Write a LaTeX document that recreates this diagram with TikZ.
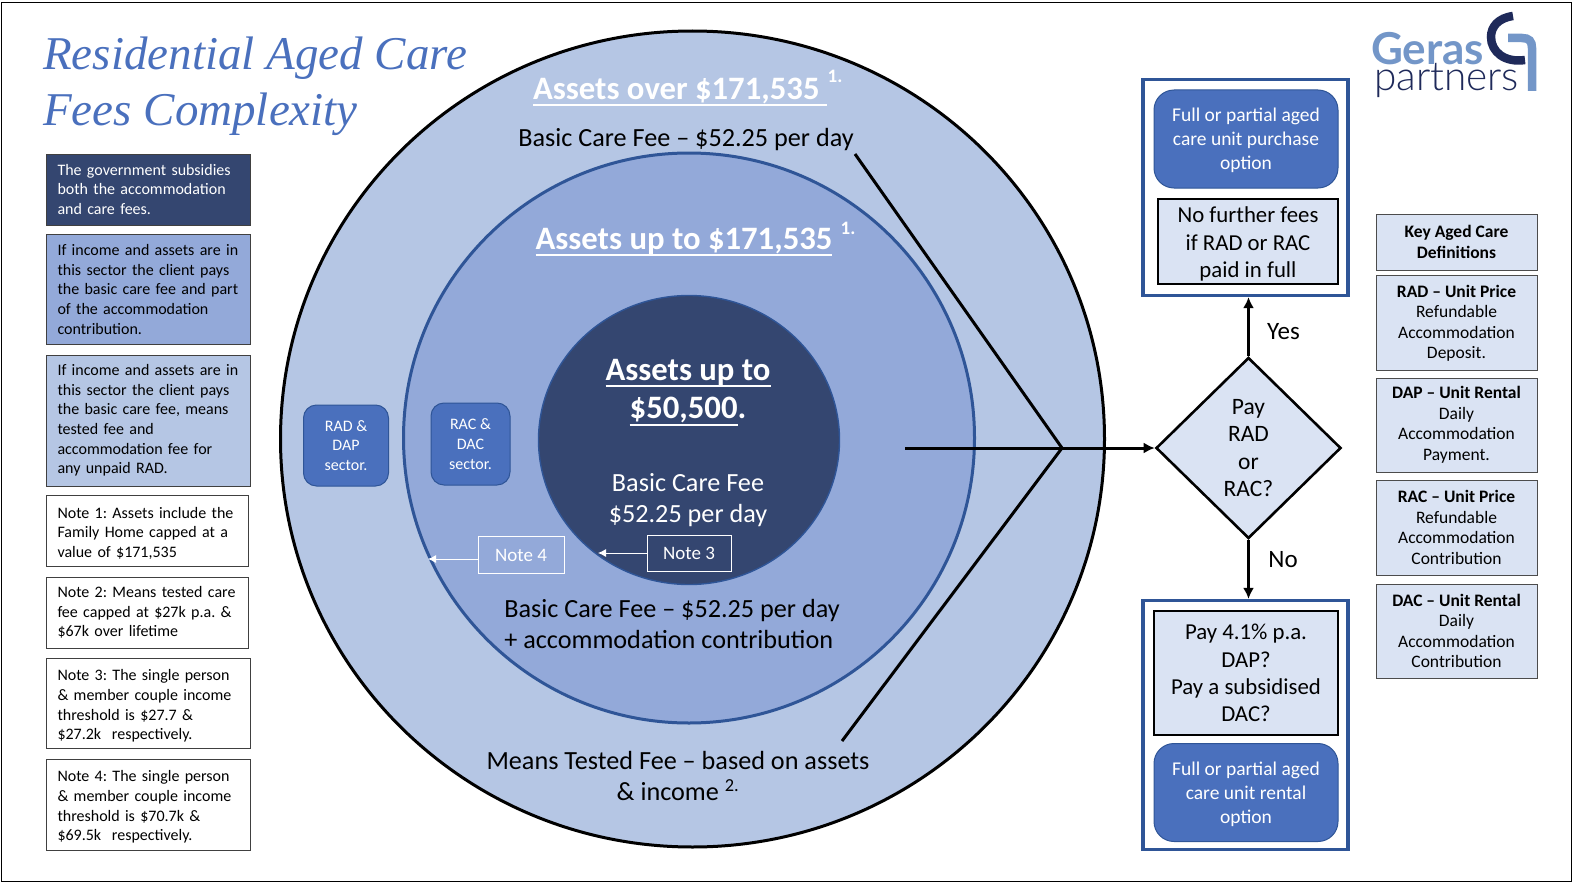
\documentclass[tikz,border=0pt]{standalone}
\usepackage{fontspec}
\usetikzlibrary{shapes.geometric,arrows.meta}
\setmainfont{Carlito}
\newfontfamily\titlefont{Liberation Serif}
\newfontfamily\logofont{Lato}
\newfontfamily\logolight{Lato Light}
\definecolor{PaleBlue}{HTML}{B5C6E4}
\definecolor{MidBlue}{HTML}{93A9D9}
\definecolor{DarkBlue}{HTML}{344670}
\definecolor{EdgeBlue}{HTML}{2F5597}
\definecolor{ButtonBlue}{HTML}{4A70BD}
\definecolor{IceBlue}{HTML}{DAE3F3}
\definecolor{LogoBlue}{HTML}{7396C8}
\definecolor{LogoNavy}{HTML}{1F2A5A}
\newcommand\heavyline[1]{\leavevmode\setbox0=\hbox{#1}\rlap{\rule[-7pt]{\wd0}{2.2pt}}\box0}
\newcommand\lift[1]{\rule{0pt}{#1}}
\frenchspacing
\tikzset{
  sidebox/.style={draw=black!75,line width=0.9pt,text width=182pt,inner xsep=11pt,inner ysep=0pt,minimum width=204pt,align=left,font=\fontsize{16}{19.6}\selectfont\frenchspacing},
  defbox/.style={draw=black!70,line width=0.9pt,fill=IceBlue,minimum width=161pt,inner sep=0pt,align=center,font=\fontsize{17.5}{20.5}\selectfont},
  sector/.style={draw=EdgeBlue,line width=1pt,fill=ButtonBlue,rounded corners=13pt,text=white,inner sep=0pt,align=center,font=\fontsize{16}{19.6}\selectfont},
  option/.style={draw=EdgeBlue,line width=1pt,fill=ButtonBlue,rounded corners=20pt,text=white,minimum width=184pt,minimum height=98pt,inner sep=0pt,align=center,font=\fontsize{19.5}{24}\selectfont},
  answer/.style={draw=black,line width=2pt,fill=IceBlue,inner sep=0pt,align=center,font=\fontsize{22.8}{27.2}\selectfont},
  group/.style={draw=EdgeBlue,line width=3.2pt,minimum width=205pt,inner sep=0pt},
  notetag/.style={draw=white,line width=1pt,text=white,inner sep=0pt,font=\fontsize{19}{23}\selectfont},
  heading/.style={inner sep=0pt,text=white,align=center,font=\fontsize{32.7}{38.5}\selectfont\bfseries},
  fee/.style={inner sep=0pt,align=center,font=\fontsize{26.2}{30.5}\selectfont},
  marker/.style={inner sep=0pt,text=white,font=\fontsize{19}{22}\selectfont\bfseries},
  link/.style={line width=3pt,black},
  headed/.style={-{Latex[length=11pt,width=11pt]}},
  whitelink/.style={-{Latex[length=8pt,width=8pt]},white,line width=0.9pt}
}
\begin{document}
\begin{tikzpicture}[x=1pt,y=-1pt]
  \useasboundingbox (0,0) rectangle (1575,883);
  \draw[black,line width=1.6pt] (1.5,2.5) rectangle (1571.5,881.5);

  % title
  \node (title) [anchor=base west,inner sep=0pt,text=ButtonBlue] at (43,70) {\titlefont\itshape\fontsize{47}{55}\selectfont Residential Aged Care};
  \node (title2) [anchor=base west,inner sep=0pt,text=ButtonBlue] at (43,125) {\titlefont\itshape\fontsize{47}{55}\selectfont Fees Complexity};

  % logo
  \node (geras) [anchor=base west,inner sep=0pt,text=LogoBlue] at (1371,65) {\logofont\bfseries\fontsize{44}{44}\selectfont Geras};
  \node (partners) [anchor=base west,inner sep=0pt,text=LogoNavy] at (1374,90) {\logolight\fontsize{40.5}{40}\selectfont partners};
  \draw[LogoBlue,line width=8.5pt] (1508,38) -- (1522,38) .. controls (1529,38) and (1532,41) .. (1532,48) -- (1532,91);
  \draw[LogoNavy,line width=8.5pt] (1513,16) .. controls (1498,18) and (1491,27) .. (1491,37) .. controls (1491,52) and (1505,63) .. (1525,60);

  % circles
  \node (outer) [ellipse,draw=black,line width=3pt,fill=PaleBlue,minimum width=824pt,minimum height=816pt,inner sep=0pt] at (692.5,439) {};
  \node (middle) [ellipse,draw=EdgeBlue,line width=3pt,fill=MidBlue,minimum width=571pt,minimum height=570pt,inner sep=0pt] at (689,438) {};
  \node (inner) [ellipse,draw=EdgeBlue,line width=1.4pt,fill=DarkBlue,minimum width=301pt,minimum height=289pt,inner sep=0pt] at (689,440) {};

  % circle texts
  \node (overhead) [heading] at (680,92) {\heavyline{Assets over \$171,535~}};
  \node (overnote) [marker] at (835,76) {1.};
  \node (overfee) [fee] at (686,140) {Basic Care Fee -- \$52.25 per day};
  \node (uphead) [heading] at (684,242) {\heavyline{Assets up to \$171,535}};
  \node (upnote) [marker] at (848,228) {1.};
  \node (lowhead) [heading] at (688,392.5) {\heavyline{Assets up to}\\\heavyline{\$50,500}.};
  \node (lowfee) [fee,text=white] at (688,500) {Basic Care Fee\\\$52.25 per day};
  \node (upfee) [fee,align=left] at (672,624) {Basic Care Fee -- \$52.25 per day\\+ accommodation contribution};
  \node (meansfee) [fee] at (678,776) {Means Tested Fee -- based on assets\\\& income \textsuperscript{2.}};

  % sectors and notes
  \node (radsector) [sector,minimum width=85pt,minimum height=81pt] at (346,445.5) {RAD \&\\DAP\\sector.};
  \node (racsector) [sector,minimum width=79pt,minimum height=82pt] at (470.5,444) {RAC \&\\DAC\\sector.};
  \node (note4) [notetag,minimum width=86pt,minimum height=37pt] at (521,555) {Note 4};
  \node (note3) [notetag,minimum width=84pt,minimum height=36pt] at (689,553) {Note 3};
  \coordinate (note4end) at (428,559);
  \coordinate (note3end) at (598,553);
  \draw[whitelink] (note4.west |- note4end) -- (note4end);
  \draw[whitelink] (note3.west |- note3end) -- (note3end);

  % left column
  \node (gov) [sidebox,fill=DarkBlue,text=white,minimum height=71pt] at (148.5,189.5) {The government subsidies\\both the accommodation\\and care fees.};
  \node (midsector) [sidebox,fill=MidBlue,minimum height=110pt] at (148.5,289.5) {If income and assets are in\\this sector the client pays\\the basic care fee and part\\of the accommodation\\contribution.};
  \node (palesector) [sidebox,fill=PaleBlue,minimum height=131pt] at (148.5,420.5) {If income and assets are in\\this sector the client pays\\the basic care fee, means\\tested fee and\\accommodation fee for\\any unpaid RAD.};
  \node (n1) [sidebox,minimum width=202pt,text width=180pt,minimum height=71pt] at (147.5,531) {\lift{16pt}Note 1: Assets include the\\Family Home capped at a\\value of \$171,535};
  \node (n2) [sidebox,minimum width=202pt,text width=180pt,minimum height=71pt] at (147.5,612.5) {Note 2: Means tested care\\fee capped at \$27k p.a. \&\\\$67k over lifetime};
  \node (n3) [sidebox,minimum height=90pt] at (148.5,703.5) {\lift{16pt}Note 3: The single person\\\& member couple income\\threshold is \$27.7 \&\\\$27.2k~ respectively.};
  \node (n4) [sidebox,minimum height=91pt] at (148.5,804.5) {\lift{16pt}Note 4: The single person\\\& member couple income\\threshold is \$70.7k \&\\\$69.5k~ respectively.};

  % decision side
  \node (buygroup) [group,minimum height=216pt] at (1245.5,187.5) {};
  \node (buyopt) [option] at (1246,139) {\lift{17pt}Full or partial aged\\care unit purchase\\option};
  \node (nofees) [answer,minimum width=180pt,minimum height=85pt] at (1248,241.5) {\lift{21pt}No further fees\\if RAD or RAC\\paid in full};
  \node (rentgroup) [group,minimum height=249pt] at (1245.5,725) {};
  \node (rentans) [answer,minimum width=184pt,minimum height=124pt] at (1246,673) {Pay 4.1\% p.a.\\DAP?\\Pay a subsidised\\DAC?};
  \node (rentopt) [option] at (1246,792.5) {\lift{17pt}Full or partial aged\\care unit rental\\option};
  \node (pay) [diamond,draw=black,line width=2.6pt,fill=IceBlue,minimum width=185pt,minimum height=181pt,inner sep=0pt,align=center,font=\fontsize{23.5}{27.4}\selectfont] at (1248.5,448) {Pay\\RAD\\or\\RAC?};

  % right column
  \node (keydef) [defbox,minimum height=56pt] at (1456.5,242) {\textbf{Key Aged Care}\\\textbf{Definitions}};
  \node (raddef) [defbox,minimum height=95pt] at (1456.5,322.5) {\lift{14pt}\textbf{RAD -- Unit Price}\\Refundable\\Accommodation\\Deposit.};
  \node (dapdef) [defbox,minimum height=94pt] at (1456.5,425) {\textbf{DAP -- Unit Rental}\\Daily\\Accommodation\\Payment.};
  \node (racdef) [defbox,minimum height=95pt] at (1456.5,527.5) {\textbf{RAC -- Unit Price}\\Refundable\\Accommodation\\Contribution};
  \node (dacdef) [defbox,minimum height=94pt] at (1456.5,631) {\textbf{DAC -- Unit Rental}\\Daily\\Accommodation\\Contribution};

  % connectors
  \coordinate (apex) at (1062,448);
  \coordinate (feetop) at (855,154);
  \coordinate (feelow) at (842,741);
  \coordinate (feestart) at (905,448);
  \draw[link] (feetop) -- (apex) -- (feelow);
  \draw[link,headed] (feestart) -- (pay.west);
  \draw[link,headed] (pay.north) -- (pay.north |- buygroup.south);
  \draw[link,headed] (pay.south) -- (pay.south |- rentgroup.north);
  \node (yes) [inner sep=0pt,font=\fontsize{25}{30}\selectfont] at (1283.5,332) {Yes};
  \node (no) [inner sep=0pt,font=\fontsize{25}{30}\selectfont] at (1283,560) {No};
\end{tikzpicture}
\end{document}
